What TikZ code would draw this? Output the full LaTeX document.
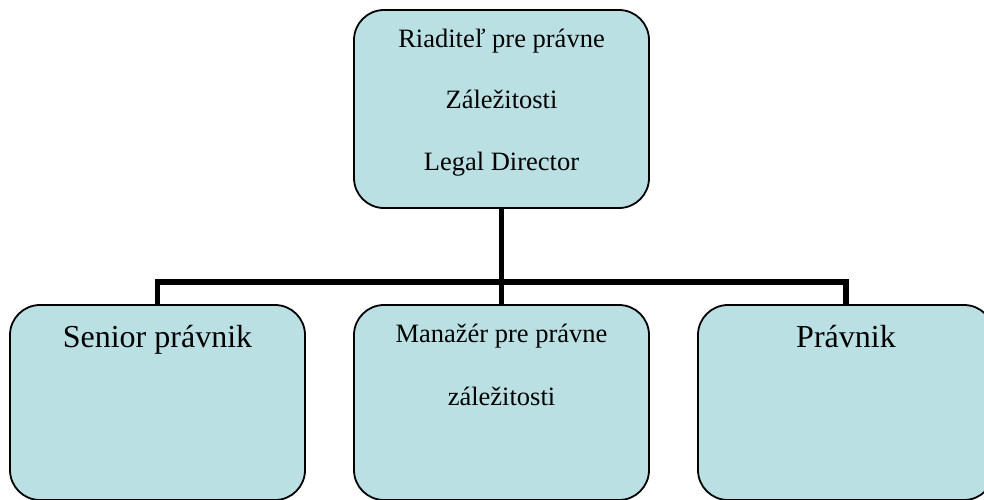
\documentclass[tikz,border=0pt]{standalone}
\usepackage{fontspec}
\setmainfont{Liberation Serif}
\definecolor{boxfill}{HTML}{BBE0E3}
\tikzset{
  orgbox/.style={draw=black, line width=1.8pt, fill=boxfill, rounded corners=30pt,
    minimum width=295pt, inner sep=0pt, rectangle},
  conn/.style={line width=5.5pt, line join=miter, line cap=butt},
  toptext/.style={anchor=base, font=\fontsize{26.5}{30}\selectfont},
  bigtext/.style={anchor=base, font=\fontsize{32}{36}\selectfont}
}
\begin{document}
\begin{tikzpicture}[x=1pt, y=-1pt]
\useasboundingbox (0,0) rectangle (984,499);

% boxes
\node[orgbox, minimum height=198pt] (top) at (501.5,109) {};
\node[orgbox, minimum height=195pt] (left) at (157.5,402.5) {};
\node[orgbox, minimum height=195pt] (mid) at (501.5,402.5) {};
\node[orgbox, minimum height=195pt, minimum width=296pt] (right) at (846,402.5) {};

% connectors
\coordinate (bus) at (0,282);
\draw[conn] (top.south) -- (mid.north);
\draw[conn] (left.north) -- (left.north |- bus) -- (right.north |- bus) -- (right.north);

% labels
\node[toptext] (t1) at (501.5,47) {Riaditeľ pre právne};
\node[toptext] (t2) at (501.5,108.5) {Záležitosti};
\node[toptext] (t3) at (501.5,170) {Legal Director};
\node[bigtext] (l1) at (157.5,347) {Senior právnik};
\node[toptext] (m1) at (501.5,342) {Manažér pre právne};
\node[toptext] (m2) at (501.5,405) {záležitosti};
\node[bigtext] (r1) at (846,347) {Právnik};
\end{tikzpicture}
\end{document}
